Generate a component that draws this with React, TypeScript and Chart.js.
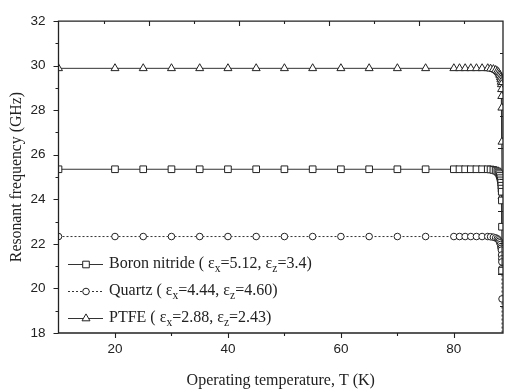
import React, { useEffect, useRef } from 'react';
import { Chart, registerables } from 'chart.js';

Chart.register(...registerables);

// Operating temperature (K) samples per series
const bnT = [10, 20, 25, 30, 35, 40, 45, 50, 55, 60, 65, 70, 75, 80, 81, 82, 83, 84, 85, 86, 86.5, 87, 87.4, 87.7, 87.9, 88.05, 88.15, 88.25, 88.32, 88.38, 88.42, 88.45, 88.48, 88.5, 88.52, 88.53];
const bnF = [25.35, 25.35, 25.35, 25.35, 25.35, 25.35, 25.35, 25.35, 25.35, 25.35, 25.35, 25.35, 25.35, 25.35, 25.35, 25.35, 25.35, 25.35, 25.35, 25.35, 25.34, 25.32, 25.29, 25.25, 25.2, 25.13, 25.05, 24.95, 24.85, 24.75, 24.61, 24.48, 24.34, 23.95, 22.77, 20.8];

const qT = [10, 20, 25, 30, 35, 40, 45, 50, 55, 60, 65, 70, 75, 80, 81, 82, 83, 84, 85, 86, 86.5, 87, 87.4, 87.7, 87.9, 88.05, 88.15, 88.25, 88.32, 88.38, 88.42, 88.45, 88.48, 88.5, 88.52, 88.53, 88.54];
const qF = [22.33, 22.33, 22.33, 22.33, 22.33, 22.33, 22.33, 22.33, 22.33, 22.33, 22.33, 22.33, 22.33, 22.33, 22.33, 22.33, 22.33, 22.33, 22.33, 22.33, 22.32, 22.3, 22.27, 22.23, 22.18, 22.12, 22.05, 21.97, 21.88, 21.8, 21.72, 21.5, 21.33, 21.19, 20.89, 19.53, 16.0];

const ptfeT = [10, 20, 25, 30, 35, 40, 45, 50, 55, 60, 65, 70, 75, 80, 81, 82, 83, 84, 85, 86, 86.5, 87, 87.4, 87.7, 87.9, 88.05, 88.15, 88.25, 88.32, 88.38, 88.42, 88.45, 88.48, 88.5, 88.52, 88.53];
const ptfeF = [29.88, 29.88, 29.88, 29.88, 29.88, 29.88, 29.88, 29.88, 29.88, 29.88, 29.88, 29.88, 29.88, 29.88, 29.88, 29.88, 29.88, 29.88, 29.88, 29.88, 29.86, 29.84, 29.8, 29.75, 29.7, 29.63, 29.56, 29.47, 29.38, 29.27, 29.16, 28.94, 28.63, 28.11, 26.58, 24.13];

const xTickLabels = [20, 40, 60, 80];
const xMinorTicks = [30, 50, 70];
const yTickLabels = [18, 20, 22, 24, 26, 28, 30, 32];
const yMinorTicks = [19, 21, 23, 25, 27, 29, 31];

const legendItems = [
  { name: 'Boron nitride', ex: '5.12', ez: '3.4', style: 'rect', dash: [] as number[] },
  { name: 'Quartz', ex: '4.44', ez: '4.60', style: 'circle', dash: [2, 2] },
  { name: 'PTFE', ex: '2.88', ez: '2.43', style: 'triangle', dash: [] as number[] },
];

const SANS = "'Liberation Sans', Arial, sans-serif";
const SERIF = "'Liberation Serif', 'Times New Roman', serif";
const INK = '#222';
const LINE = '#333';

function drawMarker(ctx: CanvasRenderingContext2D, style: string, x: number, y: number) {
  ctx.save();
  ctx.fillStyle = '#fff';
  ctx.strokeStyle = INK;
  ctx.lineWidth = 1;
  ctx.setLineDash([]);
  ctx.beginPath();
  if (style === 'rect') {
    const s = 3.3;
    ctx.rect(x - s, y - s, 2 * s, 2 * s);
  } else if (style === 'circle') {
    ctx.arc(x, y, 3.3, 0, Math.PI * 2);
  } else {
    const r = 4.6;
    ctx.moveTo(x, y - r);
    ctx.lineTo(x + r * Math.sin(Math.PI / 3 * 2), y + r * 0.5);
    ctx.lineTo(x - r * Math.sin(Math.PI / 3 * 2), y + r * 0.5);
    ctx.closePath();
  }
  ctx.fill();
  ctx.stroke();
  ctx.restore();
}

const framePlugin = {
  id: 'frameTicks',
  afterDatasetsDraw(chart: any) {
    const { ctx, chartArea } = chart;
    const { left, right, top, bottom } = chartArea;
    const sx = chart.scales.x;
    const sy = chart.scales.y;
    const st = chart.scales.xTop;
    const sr = chart.scales.yRight;
    ctx.save();
    ctx.strokeStyle = INK;
    ctx.lineWidth = 1.3;
    ctx.setLineDash([]);
    ctx.beginPath();
    ctx.rect(left, top, right - left, bottom - top);
    ctx.stroke();
    ctx.lineWidth = 1.1;
    ctx.beginPath();
    yTickLabels.forEach((v) => {
      const p = Math.round(sy.getPixelForValue(v)) + 0.5;
      ctx.moveTo(left - 5, p);
      ctx.lineTo(left, p);
    });
    yMinorTicks.forEach((v) => {
      const p = Math.round(sy.getPixelForValue(v)) + 0.5;
      ctx.moveTo(left - 3, p);
      ctx.lineTo(left, p);
    });
    xTickLabels.forEach((v) => {
      const p = Math.round(sx.getPixelForValue(v)) + 0.5;
      ctx.moveTo(p, bottom);
      ctx.lineTo(p, bottom + 5);
    });
    xMinorTicks.forEach((v) => {
      const p = Math.round(sx.getPixelForValue(v)) + 0.5;
      ctx.moveTo(p, bottom);
      ctx.lineTo(p, bottom + 3);
    });
    for (let k = 1; k <= 9; k++) {
      const px = Math.round(st.getPixelForValue(k)) + 0.5;
      ctx.moveTo(px, top);
      ctx.lineTo(px, top + (k % 2 === 0 ? 5 : 3));
      const py = Math.round(sr.getPixelForValue(k)) + 0.5;
      ctx.moveTo(right, py);
      ctx.lineTo(right - (k % 2 === 0 ? 5 : 3), py);
    }
    ctx.stroke();
    ctx.restore();
  },
  afterDraw(chart: any) {
    const { ctx } = chart;
    const rows = [264, 291, 318];
    ctx.save();
    legendItems.forEach((it, i) => {
      const y = rows[i];
      ctx.strokeStyle = LINE;
      ctx.lineWidth = 1;
      ctx.setLineDash(it.dash);
      ctx.beginPath();
      ctx.moveTo(68, y + 0.5);
      ctx.lineTo(103, y + 0.5);
      ctx.stroke();
      drawMarker(ctx, it.style, 86, y + 0.5);
      ctx.fillStyle = INK;
      ctx.textBaseline = 'middle';
      ctx.textAlign = 'left';
      const big = `16px ${SERIF}`;
      const small = `11.5px ${SERIF}`;
      let x = 109;
      const parts: [string, boolean][] = [
        [`${it.name} ( \u03b5`, false],
        ['x', true],
        [`=${it.ex}, \u03b5`, false],
        ['z', true],
        [`=${it.ez})`, false],
      ];
      parts.forEach(([t, sub]) => {
        ctx.font = sub ? small : big;
        ctx.fillText(t, x, sub ? y + 4.5 : y);
        x += ctx.measureText(t).width;
      });
    });
    ctx.restore();
  },
};

export default function App() {
  const ref = useRef<HTMLCanvasElement>(null);
  useEffect(() => {
    if (!ref.current) return;
    const mk = (xs: number[], ys: number[]) => xs.map((x, i) => ({ x, y: ys[i] }));
    const chart = new Chart(ref.current, {
      type: 'line',
      data: {
        datasets: [
          {
            label: 'Boron nitride',
            data: mk(bnT, bnF),
            borderColor: LINE,
            borderWidth: 1,
            pointStyle: 'rect',
            pointRadius: 4.7,
            pointBackgroundColor: '#fff',
            pointBorderColor: INK,
            pointBorderWidth: 1,
            tension: 0,
          },
          {
            label: 'Quartz',
            data: mk(qT, qF),
            borderColor: LINE,
            borderWidth: 1,
            borderDash: [2, 2],
            pointStyle: 'circle',
            pointRadius: 3.3,
            pointBackgroundColor: '#fff',
            pointBorderColor: INK,
            pointBorderWidth: 1,
            tension: 0,
          },
          {
            label: 'PTFE',
            data: mk(ptfeT, ptfeF),
            borderColor: LINE,
            borderWidth: 1,
            pointStyle: 'triangle',
            pointRadius: 4.6,
            pointBackgroundColor: '#fff',
            pointBorderColor: INK,
            pointBorderWidth: 1,
            tension: 0,
          },
        ],
      },
      options: {
        animation: false,
        responsive: true,
        maintainAspectRatio: false,
        layout: { padding: { top: 13, right: 6, left: 0, bottom: 0 } },
        plugins: { legend: { display: false }, tooltip: { enabled: false } },
        scales: {
          x: {
            type: 'linear',
            position: 'bottom',
            min: 10,
            max: 88.7,
            afterBuildTicks: (s: any) => {
              s.ticks = xTickLabels.map((v) => ({ value: v }));
            },
            afterFit: (s: any) => {
              s.height = 59;
            },
            grid: { display: false, drawTicks: false },
            border: { display: false },
            ticks: {
              font: { family: SANS, size: 13.5 },
              color: INK,
              padding: 8,
              maxRotation: 0,
              autoSkip: false,
            },
            title: {
              display: true,
              text: 'Operating temperature, T (K)',
              font: { family: SERIF, size: 16 },
              color: INK,
              padding: { top: 0, bottom: 2 },
            },
          },
          y: {
            type: 'linear',
            position: 'left',
            min: 18,
            max: 32,
            afterBuildTicks: (s: any) => {
              s.ticks = yTickLabels.map((v) => ({ value: v }));
            },
            afterFit: (s: any) => {
              s.width = 58.5;
            },
            grid: { display: false, drawTicks: false },
            border: { display: false },
            ticks: {
              font: { family: SANS, size: 13.5 },
              color: INK,
              padding: 13,
              autoSkip: false,
            },
            title: {
              display: true,
              text: 'Resonant frequency (GHz)',
              font: { family: SERIF, size: 15.8 },
              color: INK,
              padding: { top: 7, bottom: 0 },
            },
          },
          xTop: {
            type: 'linear',
            position: 'top',
            min: 0,
            max: 9.86,
            afterFit: (s: any) => {
              s.height = 0;
            },
            grid: { display: false, drawTicks: false },
            border: { display: false },
            ticks: { display: false },
          },
          yRight: {
            type: 'linear',
            position: 'right',
            min: 0,
            max: 9.85,
            reverse: true,
            afterFit: (s: any) => {
              s.width = 0;
            },
            grid: { display: false, drawTicks: false },
            border: { display: false },
            ticks: { display: false },
          },
        },
      },
      plugins: [framePlugin],
    } as any);
    return () => chart.destroy();
  }, []);
  return (
    <div style={{ position: 'absolute', left: 0, top: 0, width: 509, height: 392, background: '#fff' }}>
      <canvas ref={ref} />
    </div>
  );
}
